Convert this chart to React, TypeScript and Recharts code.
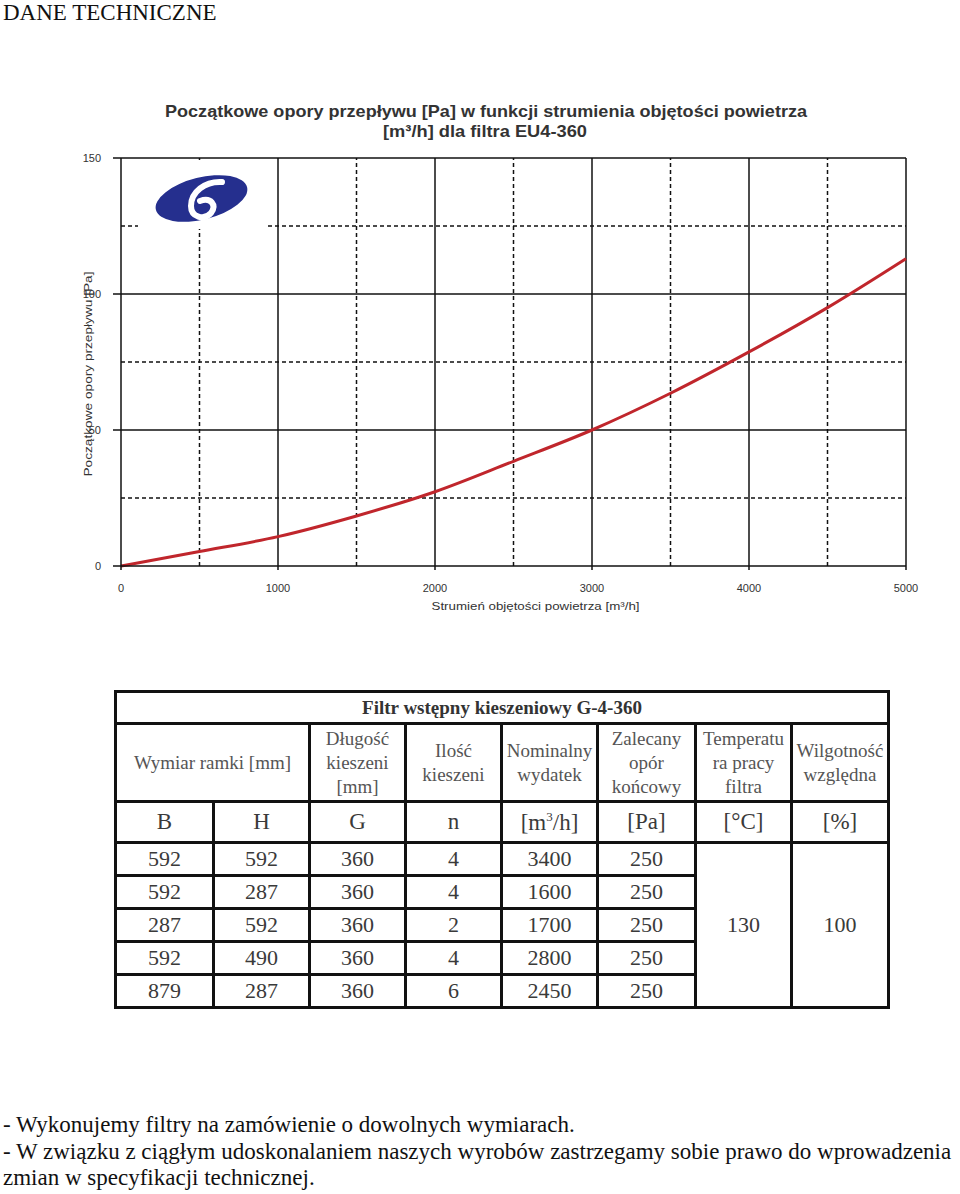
import React from 'react';
import { LineChart, Line, XAxis, YAxis, ReferenceLine } from 'recharts';

// ---- chart data ----
const flowRates = [0, 500, 1000, 1500, 2000, 2500, 3000, 3500, 4000, 4500, 5000];
const pressureDrops = [0, 5.3, 10.8, 18.4, 27.3, 38.5, 50, 63.5, 78.7, 95, 113];
const xTicks = [0, 1000, 2000, 3000, 4000, 5000];
const yTicks = [0, 50, 100, 150];
const xMajorGrid = [1000, 2000, 3000, 4000, 5000];
const xMinorGrid = [500, 1500, 2500, 3500, 4500];
const yMajorGrid = [50, 100, 150];
const yMinorGrid = [25, 75, 125];

const pageTitle = 'DANE TECHNICZNE';
const chartTitleLines = [
  'Początkowe opory przepływu [Pa] w funkcji strumienia objętości powietrza',
  '[m³/h] dla filtra EU4-360',
];
const xAxisLabel = 'Strumień objętości  powietrza [m³/h]';
const yAxisLabel = 'Początkowe opory przepływu [Pa]';

// ---- table data ----
const tableTitle = 'Filtr wstępny kieszeniowy G-4-360';
const colB = ['592', '592', '287', '592', '879'];
const colH = ['592', '287', '592', '490', '287'];
const colG = ['360', '360', '360', '360', '360'];
const colN = ['4', '4', '2', '4', '6'];
const colFlow = ['3400', '1600', '1700', '2800', '2450'];
const colPa = ['250', '250', '250', '250', '250'];
const tempValue = '130';
const humidityValue = '100';

const notes = [
  '- Wykonujemy filtry na zamówienie o dowolnych  wymiarach.',
  '- W związku z ciągłym udoskonalaniem naszych wyrobów zastrzegamy sobie prawo do wprowadzenia',
  'zmian w specyfikacji technicznej.',
];

const chartData = flowRates.map((f, i) => ({ flow: f, dp: pressureDrops[i] }));

const chartFont = '"Liberation Sans Narrow", "Arial Narrow", "Liberation Sans", Arial, sans-serif';
const serif = '"Liberation Serif", "Times New Roman", serif';

const YLabel = (props: any) => {
  const vb = props.viewBox || {};
  const x = vb.x + 7;
  const y = vb.y + vb.height / 2 + 12;
  return (
    <text
      x={x}
      y={y}
      transform={`rotate(-90 ${x} ${y})`}
      textAnchor="middle"
      dominantBaseline="central"
      fontFamily={chartFont}
      fontSize={11}
      fill="#333"
      textLength={205}
      lengthAdjust="spacingAndGlyphs"
    >
      {yAxisLabel}
    </text>
  );
};

const XLabel = (props: any) => {
  const vb = props.viewBox || {};
  const x = vb.x + vb.width / 2 + 22;
  const y = vb.y + 40;
  return (
    <text
      x={x}
      y={y}
      textAnchor="middle"
      dominantBaseline="central"
      fontFamily={chartFont}
      fontSize={11}
      fill="#333"
      textLength={208}
      lengthAdjust="spacingAndGlyphs"
    >
      {xAxisLabel}
    </text>
  );
};

const cellBorder = '3px solid #111';
const td = (extra: any = {}) => ({
  border: cellBorder,
  textAlign: 'center' as const,
  verticalAlign: 'middle' as const,
  padding: 0,
  color: '#3a3a3a',
  whiteSpace: 'nowrap' as const,
  ...extra,
});
const hd = td({ fontSize: 19, color: '#555', lineHeight: '24px' });
const un = td({ fontSize: 23 });
const dt = td({ fontSize: 22 });

export default function App() {
  return (
    <div style={{ position: 'absolute', left: 0, top: 0, width: 960, height: 1194, background: '#fff', overflow: 'hidden' }}>
      <div style={{ position: 'absolute', left: 3, top: 0, fontFamily: serif, fontSize: 23, lineHeight: '25px', color: '#111', whiteSpace: 'nowrap' }}>
        {pageTitle}
      </div>

      <div style={{ position: 'absolute', left: 0, top: 0 }}>
        <LineChart
          width={960}
          height={630}
          data={chartData}
          margin={{ top: 158, right: 54, bottom: 14, left: 81 }}
        >
          {xMinorGrid.map((v) => (
            <ReferenceLine key={'xm' + v} x={v} stroke="#111" strokeWidth={1.5} strokeDasharray="4 3" />
          ))}
          {yMinorGrid.map((v) => (
            <ReferenceLine key={'ym' + v} y={v} stroke="#111" strokeWidth={1.5} strokeDasharray="4 3" />
          ))}
          {xMajorGrid.map((v) => (
            <ReferenceLine key={'xM' + v} x={v} stroke="#111" strokeWidth={1.5} />
          ))}
          {yMajorGrid.map((v) => (
            <ReferenceLine key={'yM' + v} y={v} stroke="#111" strokeWidth={1.5} />
          ))}
          <XAxis
            dataKey="flow"
            type="number"
            domain={[0, 5000]}
            ticks={xTicks}
            height={50}
            tickSize={4}
            tickMargin={14}
            stroke="#111"
            strokeWidth={1.5}
            tick={{ fontFamily: chartFont, fontSize: 11, fill: '#333' }}
            label={<XLabel />}
          />
          <YAxis
            type="number"
            domain={[0, 150]}
            ticks={yTicks}
            width={40}
            tickSize={8}
            tickMargin={12}
            stroke="#111"
            strokeWidth={1.5}
            tick={{ fontFamily: chartFont, fontSize: 11, fill: '#333' }}
            label={<YLabel />}
          />
          <Line
            type="monotone"
            dataKey="dp"
            stroke="#c0262c"
            strokeWidth={3}
            dot={false}
            isAnimationActive={false}
          />
        </LineChart>
      </div>

      {/* title + logo overlay */}
      <svg width={960} height={240} style={{ position: 'absolute', left: 0, top: 0, pointerEvents: 'none' }}>
        <text x={486} y={111} textAnchor="middle" dominantBaseline="central" fontFamily={chartFont} fontWeight="bold" fontSize={17} fill="#333" textLength={642} lengthAdjust="spacingAndGlyphs">
          {chartTitleLines[0]}
        </text>
        <text x={485} y={131} textAnchor="middle" dominantBaseline="central" fontFamily={chartFont} fontWeight="bold" fontSize={17} fill="#333" textLength={204} lengthAdjust="spacingAndGlyphs">
          {chartTitleLines[1]}
        </text>
        <rect x={138} y={160} width={130} height={69} fill="#fff" />
        <ellipse cx={201.5} cy={198.5} rx={47} ry={21} transform="rotate(-14 201.5 198.5)" fill="#252f8e" />
        <path d="M 222 182 C 205 181, 191 192, 191 206 C 191 217, 204 221, 211 213 C 217 205, 211 197, 200 201" stroke="#fff" strokeWidth={6} fill="none" strokeLinecap="round" />
      </svg>

      {/* table */}
      <table
        style={{
          position: 'absolute',
          left: 114,
          top: 690,
          width: 773,
          borderCollapse: 'collapse',
          tableLayout: 'fixed',
          fontFamily: serif,
          border: cellBorder,
        }}
      >
        <colgroup>
          {[98, 96, 96, 96, 96, 98, 96, 97].map((w, i) => (
            <col key={i} style={{ width: w }} />
          ))}
        </colgroup>
        <tbody>
          <tr style={{ height: 32 }}>
            <td colSpan={8} style={td({ fontWeight: 'bold', fontSize: 19, color: '#333' })}>{tableTitle}</td>
          </tr>
          <tr style={{ height: 78 }}>
            <td colSpan={2} style={hd}>Wymiar ramki [mm]</td>
            <td style={hd}>Długość<br />kieszeni<br />[mm]</td>
            <td style={hd}>Ilość<br />kieszeni</td>
            <td style={hd}>Nominalny<br />wydatek</td>
            <td style={hd}>Zalecany<br />opór<br />końcowy</td>
            <td style={hd}>Temperatu<br />ra pracy<br />filtra</td>
            <td style={hd}>Wilgotność<br />względna</td>
          </tr>
          <tr style={{ height: 41 }}>
            <td style={un}>B</td>
            <td style={un}>H</td>
            <td style={un}>G</td>
            <td style={un}>n</td>
            <td style={un}>[m<sup style={{ fontSize: 13 }}>3</sup>/h]</td>
            <td style={un}>[Pa]</td>
            <td style={un}>[°C]</td>
            <td style={un}>[%]</td>
          </tr>
          {colB.map((b, i) => (
            <tr key={i} style={{ height: 33 }}>
              <td style={dt}>{b}</td>
              <td style={dt}>{colH[i]}</td>
              <td style={dt}>{colG[i]}</td>
              <td style={dt}>{colN[i]}</td>
              <td style={dt}>{colFlow[i]}</td>
              <td style={dt}>{colPa[i]}</td>
              {i === 0 && (
                <>
                  <td rowSpan={5} style={dt}>{tempValue}</td>
                  <td rowSpan={5} style={dt}>{humidityValue}</td>
                </>
              )}
            </tr>
          ))}
        </tbody>
      </table>

      {/* notes */}
      <div style={{ position: 'absolute', left: 3, top: 1112, fontFamily: serif, fontSize: 23, lineHeight: '26.5px', color: '#111', whiteSpace: 'nowrap' }}>
        {notes.map((n, i) => (
          <div key={i}>{n}</div>
        ))}
      </div>
    </div>
  );
}
